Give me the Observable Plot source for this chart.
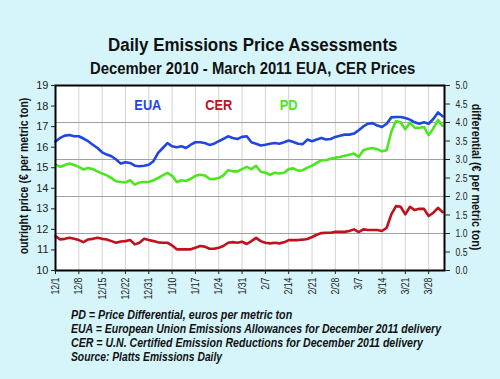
<!DOCTYPE html>
<html>
<head>
<meta charset="utf-8">
<script src="https://cdn.jsdelivr.net/npm/d3@7"></script>
<script src="https://cdn.jsdelivr.net/npm/@observablehq/plot@0.6"></script>
<style>
  html, body { margin: 0; padding: 0; background: #d6f5fb; }
  #wrap { position: relative; width: 500px; height: 379px; background: #d6f5fb; overflow: hidden;
          font-family: "Liberation Sans", Arial, sans-serif; color: #111; }
  #wrap svg { position: absolute; left: 0; top: 0; }
  .t { position: absolute; white-space: nowrap; font-weight: bold; transform-origin: 50% 50%; }
  .n { position: absolute; white-space: nowrap; font-weight: bold; font-style: italic; font-size: 12px; line-height: 12px; transform-origin: 0 50%; }
</style>
</head>
<body>
<div id="wrap">
  <div class="t" id="title" style="font-size:18px;line-height:18px;">Daily Emissions Price Assessments</div>
  <div class="t" id="subtitle" style="font-size:16px;line-height:16px;">December 2010 - March 2011 EUA, CER Prices</div>
  <div class="t" id="ylabL" style="font-size:12px;line-height:12px;">outright price (€ per metric ton)</div>
  <div class="t" id="ylabR" style="font-size:12px;line-height:12px;">differential (€ per metric ton)</div>
  <div class="n" id="n1">PD = Price Differential, euros per metric ton</div>
  <div class="n" id="n2">EUA = European Union Emissions Allowances for December 2011 delivery</div>
  <div class="n" id="n3">CER = U.N. Certified Emission Reductions for December 2011 delivery</div>
  <div class="n" id="n4">Source: Platts Emissions Daily</div>
</div>
<script>
// Tick labels (every 5th trading day)
const tickLabels = ["12/1","12/8","12/15","12/22","12/31","1/10","1/17","1/24","1/31","2/7","2/14","2/21","2/28","3/7","3/14","3/21","3/28"];

// EUA outright price (€/t), daily, 12/1/2010 - 3/31/2011
const eua = [16.28,16.45,16.56,16.59,16.53,16.53,16.42,16.29,16.12,15.96,15.75,15.64,15.56,15.40,15.20,15.27,15.23,15.10,15.07,15.10,15.14,
  15.32,15.72,15.96,16.20,16.04,16.00,16.04,15.96,16.12,16.24,16.24,16.20,16.11,16.17,16.29,16.40,16.53,16.45,16.40,16.50,
  16.53,16.24,16.17,16.08,16.12,16.17,16.20,16.17,16.24,16.32,16.25,16.17,16.15,16.37,16.29,16.37,16.45,16.37,16.40,16.50,
  16.56,16.61,16.61,16.66,16.82,17.01,17.14,17.17,17.05,16.98,17.14,17.45,17.47,17.47,17.42,17.34,17.21,17.14,17.21,17.14,17.37,17.69,17.50];

// CER outright price (€/t)
const cer = [11.67,11.51,11.54,11.59,11.54,11.48,11.38,11.51,11.54,11.59,11.54,11.51,11.43,11.35,11.41,11.43,11.48,11.27,11.35,11.54,11.48,
  11.43,11.37,11.35,11.35,11.22,11.03,11.03,11.03,11.03,11.11,11.19,11.16,11.06,11.06,11.11,11.19,11.35,11.38,11.35,11.40,
  11.29,11.43,11.59,11.43,11.35,11.32,11.35,11.32,11.37,11.48,11.48,11.48,11.50,11.53,11.63,11.74,11.82,11.84,11.84,11.88,
  11.88,11.88,11.92,12.00,11.87,12.00,11.97,11.97,11.97,11.92,12.08,12.73,13.13,13.10,12.73,13.10,12.94,13.00,13.00,12.65,12.81,13.05,12.84];

// PD price differential (€/t), right axis
const pd = [2.86,2.80,2.85,2.89,2.85,2.80,2.73,2.77,2.74,2.68,2.62,2.57,2.50,2.41,2.39,2.38,2.44,2.32,2.38,2.39,2.39,
  2.44,2.50,2.57,2.64,2.56,2.39,2.44,2.42,2.48,2.56,2.59,2.57,2.48,2.47,2.50,2.57,2.71,2.68,2.68,2.74,
  2.80,2.74,2.83,2.67,2.64,2.59,2.64,2.62,2.64,2.74,2.76,2.70,2.71,2.78,2.83,2.91,2.98,2.98,3.02,3.05,
  3.07,3.10,3.13,3.16,3.07,3.25,3.29,3.31,3.28,3.22,3.25,3.75,4.04,4.00,3.82,4.00,3.86,3.86,3.88,3.66,3.84,4.07,3.91];

const leftTicks = [10,11,12,13,14,15,16,17,18,19];
const rightTicks = [0,0.5,1,1.5,2,2.5,3,3.5,4,4.5,5];
const rightGrid = [1,2,3,4];
const seriesNames = ["EUA","CER","PD"];
const colors = {EUA: "#1f46e0", CER: "#c0111d", PD: "#4be61f"};

// right axis (0-5) mapped onto left axis (10-19)
const toLeft = v => 10 + v * 1.8;
const fromLeft = v => (v - 10) / 1.8;

const tickIdx = tickLabels.map((_, k) => k * 5);
const rows = [
  ...eua.map((v, i) => ({i, s: "EUA", y: v})),
  ...cer.map((v, i) => ({i, s: "CER", y: v})),
  ...pd.map((v, i) => ({i, s: "PD", y: toLeft(v)}))
];

const chart = Plot.plot({
  width: 500, height: 305,
  marginTop: 85, marginBottom: 35, marginLeft: 55, marginRight: 56,
  style: {background: "transparent", fontFamily: "'Liberation Sans', Arial, sans-serif", fontSize: "11px", color: "#222"},
  x: {domain: [0, 83.4]},
  y: {domain: [10, 19]},
  marks: [
    Plot.frame({fill: "white"}),
    Plot.ruleX(tickIdx, {stroke: "#d2d2d2", strokeWidth: 1}),
    Plot.ruleY(rightGrid.map(toLeft), {stroke: "#a0a0a0", strokeWidth: 1}),
    ...seriesNames.map(s => Plot.line(rows.filter(d => d.s === s), {x: "i", y: "y", stroke: colors[s], strokeWidth: 2.6, strokeLinejoin: "round"})),
    Plot.text([{s: "EUA", x: 19.8}, {s: "CER", x: 35}, {s: "PD", x: 50}], {
      x: "x", y: 18.05, text: "s", fill: d => colors[d.s], fontSize: 15, fontWeight: "bold"
    }),
    Plot.frame({stroke: "#000", strokeWidth: 2}),
    Plot.axisX(tickIdx, {anchor: "bottom", tickFormat: d => tickLabels[d / 5], tickRotate: -90, tickSize: 4, tickPadding: 3, label: null, fontSize: 11}),
    Plot.axisY(leftTicks, {anchor: "left", tickSize: 4, tickPadding: 3, label: null, fontSize: 11}),
    Plot.axisY(rightTicks.map(toLeft), {anchor: "right", tickSize: 5, tickPadding: 6, label: null, fontSize: 11,
      tickFormat: v => fromLeft(v).toFixed(1)})
  ]
});
document.getElementById("wrap").appendChild(chart);

// condense texts horizontally (reference uses a condensed face)
const legendLen = {EUA: 27, CER: 27, PD: 18};
chart.querySelectorAll('g[aria-label="text"] text').forEach(t => {
  const k = t.textContent;
  if (legendLen[k]) { t.setAttribute("textLength", legendLen[k]); t.setAttribute("lengthAdjust", "spacingAndGlyphs"); }
});
chart.querySelectorAll('g[aria-label="x-axis tick label"] text').forEach(t => {
  t.setAttribute("transform", (t.getAttribute("transform") || "") + " scale(0.8,1)");
});
chart.querySelectorAll('g[aria-label="y-axis tick label"]').forEach(g => {
  if (g.getAttribute("text-anchor") === "start") {
    g.querySelectorAll("text").forEach(t => t.setAttribute("transform", (t.getAttribute("transform") || "") + " scale(0.78,1)"));
  }
});

function placeCenter(id, cx, cy, target, rot) {
  const el = document.getElementById(id);
  const w = el.offsetWidth, h = el.offsetHeight;
  el.style.left = (cx - w / 2) + "px";
  el.style.top = (cy - h / 2) + "px";
  el.style.transform = `rotate(${rot}deg) scaleX(${target / w})`;
}
function placeLeft(id, x, baseline, target) {
  const el = document.getElementById(id);
  const w = el.offsetWidth;
  el.style.left = x + "px";
  el.style.top = (baseline - 0.85 * 12) + "px";
  el.style.transform = `scaleX(${target / w})`;
}
placeCenter("title", 253, 51 - 0.35 * 18, 290, 0);
placeCenter("subtitle", 252.5, 75 - 0.35 * 16, 325, 0);
placeCenter("ylabL", 24, 176, 157, -90);
placeCenter("ylabR", 476, 177, 147, 90);
placeLeft("n1", 71, 319.5, 221);
placeLeft("n2", 71, 333.3, 370);
placeLeft("n3", 71, 347.1, 352);
placeLeft("n4", 71, 360.9, 151);
</script>
</body>
</html>
